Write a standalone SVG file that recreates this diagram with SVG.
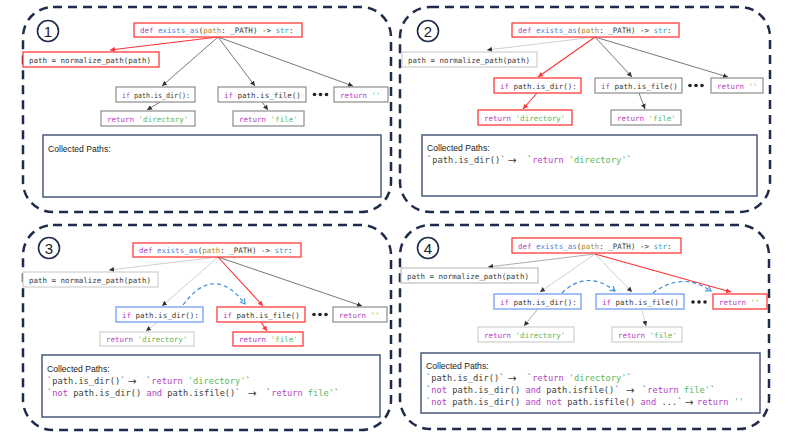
<svg xmlns="http://www.w3.org/2000/svg" width="799" height="445" viewBox="0 0 799 445">
<style>
.panel{fill:none;stroke:#1e2b4a;stroke-width:2.5;stroke-dasharray:9 6}
.num{fill:#fff;stroke:#1e2b4a;stroke-width:1.6}
.numt{font-family:"Liberation Sans",Arial,sans-serif;font-size:15px;fill:#222;text-anchor:middle}
.code{font-family:"DejaVu Sans Mono","Liberation Mono",monospace;font-size:7.5px;fill:#3a3a3a}
.cl{font-family:"DejaVu Sans Mono","Liberation Mono",monospace;font-size:8.7px;fill:#404040}
.ar{font-family:"DejaVu Sans",sans-serif;font-size:10.5px;fill:#404040}
.lbl{font-family:"Liberation Sans",Arial,sans-serif;font-size:8.6px;fill:#222}
.kw{fill:#b23fc2}.fn{fill:#4d7fe0}.pa{fill:#b38a1e}.ty{fill:#3399cc}.st{fill:#5cb85c}
.br{fill:#fff;stroke:#ff3b3b;stroke-width:1.3}
.bg{fill:#fff;stroke:#8c8c8c;stroke-width:1.2}
.bl{fill:#fff;stroke:#cfcfcf;stroke-width:1.2}
.bb{fill:#fff;stroke:#7ea6f2;stroke-width:1.4}
.col{fill:#fff;stroke:#4a5a78;stroke-width:1.5}
.ed{stroke:#555;stroke-width:0.8;fill:none;marker-end:url(#mD)}
.el{stroke:#c4c4c4;stroke-width:0.8;fill:none;marker-end:url(#mL)}
.er{stroke:#ff3333;stroke-width:1.1;fill:none;marker-end:url(#mR)}
.eb{stroke:#3b8bd8;stroke-width:1.2;fill:none;stroke-dasharray:4 3;marker-end:url(#mB)}
.dot{fill:#222}
</style>
<defs>
<marker id="mD" markerUnits="userSpaceOnUse" markerWidth="5" markerHeight="5" refX="5" refY="2.5" orient="auto"><path d="M0,0 L5,2.5 L0,5 z" fill="#333"/></marker>
<marker id="mL" markerUnits="userSpaceOnUse" markerWidth="5" markerHeight="5" refX="5" refY="2.5" orient="auto"><path d="M0,0 L5,2.5 L0,5 z" fill="#333"/></marker>
<marker id="mR" markerUnits="userSpaceOnUse" markerWidth="5" markerHeight="5" refX="5" refY="2.5" orient="auto"><path d="M0,0 L5,2.5 L0,5 z" fill="#ff3333"/></marker>
<marker id="mB" markerUnits="userSpaceOnUse" markerWidth="7" markerHeight="7" refX="5" refY="3" orient="auto"><path d="M0,0 L5,3 L0,6" fill="none" stroke="#3b8bd8" stroke-width="1.1"/></marker>
</defs>
<rect width="799" height="445" fill="#fff"/>

<!-- Panel frames -->
<g id="panels">
<rect class="panel" x="23" y="7" width="368" height="205" rx="30"/>
<rect class="panel" x="400" y="7" width="370" height="205" rx="30"/>
<rect class="panel" x="23" y="225" width="368" height="205" rx="30"/>
<rect class="panel" x="400" y="225" width="369" height="204" rx="30"/>
<circle class="num" cx="48" cy="31" r="10.5"/><text class="numt" x="48" y="36.5">1</text>
<circle class="num" cx="428" cy="31" r="10.5"/><text class="numt" x="428" y="36.5">2</text>
<circle class="num" cx="49" cy="248" r="10.5"/><text class="numt" x="49" y="253.5">3</text>
<circle class="num" cx="428" cy="248" r="10.5"/><text class="numt" x="428" y="253.5">4</text>
</g>

<!-- Connectors -->
<g id="connectors">
<!-- P1 -->
<line class="er" x1="218" y1="37" x2="110" y2="50"/>
<line class="ed" x1="218" y1="37" x2="162" y2="86"/>
<line class="ed" x1="218" y1="37" x2="255" y2="86"/>
<line class="ed" x1="218" y1="37" x2="353" y2="86"/>
<line class="ed" x1="160" y1="102" x2="147" y2="110"/>
<line class="ed" x1="262" y1="102" x2="268" y2="110"/>
<!-- P2 -->
<line class="el" x1="595" y1="37" x2="487" y2="50"/>
<line class="er" x1="595" y1="37" x2="538" y2="77"/>
<line class="ed" x1="595" y1="37" x2="632" y2="77"/>
<line class="ed" x1="595" y1="37" x2="728" y2="77"/>
<line class="er" x1="537" y1="93" x2="523" y2="109"/>
<line class="ed" x1="639" y1="93" x2="645" y2="109"/>
<!-- P3 -->
<line class="el" x1="218" y1="257" x2="109" y2="270"/>
<line class="el" x1="218" y1="257" x2="162" y2="306"/>
<line class="er" x1="218" y1="257" x2="263" y2="306"/>
<line class="ed" x1="218" y1="257" x2="362" y2="306"/>
<line class="el" x1="158" y1="322" x2="146" y2="331"/>
<line class="er" x1="261" y1="322" x2="267" y2="331"/>
<path class="eb" d="M183,305 Q214,263 245,304"/>
<!-- P4 -->
<line class="ed" style="stroke:#999" x1="595" y1="254" x2="488" y2="267"/>
<line class="el" x1="595" y1="254" x2="540" y2="292"/>
<line class="el" x1="595" y1="254" x2="632" y2="292"/>
<line class="er" x1="595" y1="254" x2="731" y2="292"/>
<line class="ed" style="stroke:#999" x1="537" y1="310" x2="524" y2="326"/>
<line class="el" x1="642" y1="310" x2="646" y2="326"/>
<path class="eb" d="M562,293 Q587,269 615,291"/>
<path class="eb" d="M653,293 Q682,271 711,291"/>
</g>

<!-- Panel 1 nodes -->
<g id="p1-def"><rect class="br" x="134" y="23" width="168" height="14"/><text class="code" x="140" y="32.8"><tspan class="kw">def</tspan> <tspan class="fn">exists_as</tspan>(<tspan class="pa">path</tspan>: _PATH) -&gt; <tspan class="ty">str</tspan>:</text></g>
<g id="p1-path"><rect class="br" x="23" y="52" width="136" height="15"/><text class="code" x="29" y="62.5">path = normalize_path(path)</text></g>
<g id="p1-ifdir"><rect class="bg" x="116" y="87" width="79" height="15"/><text class="code" x="122" y="97.5" textLength="68" lengthAdjust="spacingAndGlyphs"><tspan class="kw">if</tspan> path.is_dir():</text></g>
<g id="p1-iffile"><rect class="bg" x="218" y="87" width="88" height="15"/><text class="code" x="224" y="97.5"><tspan class="kw">if</tspan> path.is_file()</text></g>
<g id="p1-dots"><circle class="dot" cx="314.5" cy="94.5" r="1.8"/><circle class="dot" cx="320.5" cy="94.5" r="1.8"/><circle class="dot" cx="326.5" cy="94.5" r="1.8"/></g>
<g id="p1-retempty"><rect class="bg" x="334" y="87" width="54" height="15"/><text class="code" x="340" y="97.5"><tspan class="kw">return</tspan> <tspan class="st">''</tspan></text></g>
<g id="p1-retdir"><rect class="bg" x="101" y="111" width="94" height="15"/><text class="code" x="107" y="121.5"><tspan class="kw">return</tspan> <tspan class="st">'directory'</tspan></text></g>
<g id="p1-retfile"><rect class="bg" x="233" y="111" width="71" height="15"/><text class="code" x="239" y="121.5"><tspan class="kw">return</tspan> <tspan class="st">'file'</tspan></text></g>
<g id="p1-collected"><rect class="col" x="43" y="135" width="338" height="62"/><text class="lbl" x="48" y="152">Collected Paths:</text></g>

<!-- Panel 2 nodes -->
<g id="p2-def"><rect class="br" x="512" y="23" width="167" height="14"/><text class="code" x="518" y="32.8"><tspan class="kw">def</tspan> <tspan class="fn">exists_as</tspan>(<tspan class="pa">path</tspan>: _PATH) -&gt; <tspan class="ty">str</tspan>:</text></g>
<g id="p2-path"><rect class="bl" x="402" y="52" width="135" height="15"/><text class="code" x="408" y="62.5">path = normalize_path(path)</text></g>
<g id="p2-ifdir"><rect class="br" x="494" y="78" width="87" height="15"/><text class="code" x="500" y="88.5"><tspan class="kw">if</tspan> path.is_dir():</text></g>
<g id="p2-iffile"><rect class="bg" x="595" y="78" width="87" height="15"/><text class="code" x="601" y="88.5"><tspan class="kw">if</tspan> path.is_file()</text></g>
<g id="p2-dots"><circle class="dot" cx="690" cy="85.5" r="1.8"/><circle class="dot" cx="696" cy="85.5" r="1.8"/><circle class="dot" cx="702" cy="85.5" r="1.8"/></g>
<g id="p2-retempty"><rect class="bg" x="711" y="78" width="52" height="15"/><text class="code" x="717" y="88.5"><tspan class="kw">return</tspan> <tspan class="st">''</tspan></text></g>
<g id="p2-retdir"><rect class="br" x="478" y="110" width="94" height="15"/><text class="code" x="484" y="120.5"><tspan class="kw">return</tspan> <tspan class="st">'directory'</tspan></text></g>
<g id="p2-retfile"><rect class="bg" x="611" y="110" width="70" height="15"/><text class="code" x="617" y="120.5"><tspan class="kw">return</tspan> <tspan class="st">'file'</tspan></text></g>
<g id="p2-collected"><rect class="col" x="422" y="135" width="335" height="61"/><text class="lbl" x="427" y="151">Collected Paths:</text>
<text class="cl" x="427" y="163">`path.is_dir()`</text><text class="ar" x="508" y="163.5">→</text><text class="cl" x="527" y="163">`<tspan class="kw">return</tspan> <tspan class="st">'directory'</tspan>`</text></g>

<!-- Panel 3 nodes -->
<g id="p3-def"><rect class="br" x="133" y="243" width="168" height="14"/><text class="code" x="139" y="252.8"><tspan class="kw">def</tspan> <tspan class="fn">exists_as</tspan>(<tspan class="pa">path</tspan>: _PATH) -&gt; <tspan class="ty">str</tspan>:</text></g>
<g id="p3-path"><rect class="bl" x="23" y="272" width="135" height="15"/><text class="code" x="29" y="282.5">path = normalize_path(path)</text></g>
<g id="p3-ifdir"><rect class="bb" x="116" y="307" width="87" height="15"/><text class="code" x="122" y="317.5"><tspan class="kw">if</tspan> path.is_dir():</text></g>
<g id="p3-iffile"><rect class="br" x="217" y="307" width="88" height="15"/><text class="code" x="223" y="317.5"><tspan class="kw">if</tspan> path.is_file()</text></g>
<g id="p3-dots"><circle class="dot" cx="314" cy="314.5" r="1.8"/><circle class="dot" cx="320" cy="314.5" r="1.8"/><circle class="dot" cx="326" cy="314.5" r="1.8"/></g>
<g id="p3-retempty"><rect class="bg" x="333" y="307" width="54" height="15"/><text class="code" x="339" y="317.5"><tspan class="kw">return</tspan> <tspan class="st">''</tspan></text></g>
<g id="p3-retdir"><rect class="bl" x="100" y="332" width="94" height="14"/><text class="code" x="106" y="342"><tspan class="kw">return</tspan> <tspan class="st">'directory'</tspan></text></g>
<g id="p3-retfile"><rect class="br" x="233" y="332" width="70" height="14"/><text class="code" x="239" y="342"><tspan class="kw">return</tspan> <tspan class="st">'file'</tspan></text></g>
<g id="p3-collected"><rect class="col" x="42" y="355" width="338" height="62"/><text class="lbl" x="47" y="372">Collected Paths:</text>
<text class="cl" x="47" y="384">`path.is_dir()`</text><text class="ar" x="128" y="384.5">→</text><text class="cl" x="146" y="384">`<tspan class="kw">return</tspan> <tspan class="st">'directory'</tspan>`</text>
<text class="cl" x="47" y="396">`<tspan class="kw">not</tspan> path.is_dir() <tspan class="kw">and</tspan> path.isfile()`</text><text class="ar" x="248" y="396.5">→</text><text class="cl" x="266" y="396">`<tspan class="kw">return</tspan> <tspan class="st">file'</tspan>`</text></g>

<!-- Panel 4 nodes -->
<g id="p4-def"><rect class="br" x="512" y="238" width="169" height="15"/><text class="code" x="518" y="248.5"><tspan class="kw">def</tspan> <tspan class="fn">exists_as</tspan>(<tspan class="pa">path</tspan>: _PATH) -&gt; <tspan class="ty">str</tspan>:</text></g>
<g id="p4-path"><rect class="bl" style="stroke:#bdbdbd" x="401" y="268" width="137" height="15"/><text class="code" x="407" y="278.5">path = normalize_path(path)</text></g>
<g id="p4-ifdir"><rect class="bb" x="494" y="294" width="87" height="15"/><text class="code" x="500" y="304.5"><tspan class="kw">if</tspan> path.is_dir():</text></g>
<g id="p4-iffile"><rect class="bb" x="596" y="294" width="88" height="15"/><text class="code" x="602" y="304.5"><tspan class="kw">if</tspan> path.is_file()</text></g>
<g id="p4-dots"><circle class="dot" cx="693" cy="302" r="1.8"/><circle class="dot" cx="699" cy="302" r="1.8"/><circle class="dot" cx="705" cy="302" r="1.8"/></g>
<g id="p4-retempty"><rect class="br" x="713" y="294" width="54" height="15"/><text class="code" x="719" y="304.5"><tspan class="kw">return</tspan> <tspan class="st">''</tspan></text></g>
<g id="p4-retdir"><rect class="bl" x="478" y="327" width="96" height="15"/><text class="code" x="484" y="337.5"><tspan class="kw">return</tspan> <tspan class="st">'directory'</tspan></text></g>
<g id="p4-retfile"><rect class="bl" x="612" y="327" width="70" height="15"/><text class="code" x="618" y="337.5"><tspan class="kw">return</tspan> <tspan class="st">'file'</tspan></text></g>
<g id="p4-collected"><rect class="col" x="421" y="353" width="339" height="60"/><text class="lbl" x="426" y="369">Collected Paths:</text>
<text class="cl" x="426" y="381">`path.is_dir()`</text><text class="ar" x="508" y="381.5">→</text><text class="cl" x="527" y="381">`<tspan class="kw">return</tspan> <tspan class="st">'directory'</tspan>`</text>
<text class="cl" x="426" y="393">`<tspan class="kw">not</tspan> path.is_dir() <tspan class="kw">and</tspan> path.isfile()`</text><text class="ar" x="626" y="393.5">→</text><text class="cl" x="642" y="393">`<tspan class="kw">return</tspan> <tspan class="st">file'</tspan>`</text>
<text class="cl" x="426" y="405">`<tspan class="kw">not</tspan> path.is_dir() <tspan class="kw">and</tspan> <tspan class="kw">not</tspan> path.isfile() <tspan class="kw">and</tspan> ...`</text><text class="ar" x="685" y="405.5">→</text><text class="cl" x="697" y="405"> <tspan class="kw">return</tspan> <tspan class="st">''</tspan></text></g>
</svg>
